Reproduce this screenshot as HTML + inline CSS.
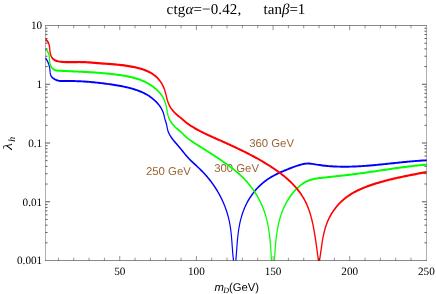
<!DOCTYPE html>
<html><head><meta charset="utf-8"><title>plot</title>
<style>
html,body{margin:0;padding:0;background:#fff;}
svg{display:block}
text{text-rendering:geometricPrecision;}
svg{will-change:transform;transform:translateZ(0);}
.s{font-family:"Liberation Serif",serif;}
.h{font-family:"Liberation Sans",sans-serif;}
</style></head><body>
<svg width="436" height="294" viewBox="0 0 436 294">
<rect width="436" height="294" fill="#fff"/>
<g class="h" font-size="11.35" fill="#996633">
<text x="146" y="175.3">250 GeV</text>
<text x="214.2" y="172.4">300 GeV</text>
<text x="249.2" y="146.6">360 GeV</text>
</g>
<g fill="none" stroke-linejoin="round" stroke-linecap="butt" transform="scale(0.6,1)">
<path d="M76.00 58.10 L77.33 59.30 L78.57 60.59 L79.69 61.94 L80.69 63.36 L81.54 64.83 L82.24 66.33 L82.77 67.86 L83.11 69.41 L83.33 70.95 L83.55 72.47 L83.93 73.93 L84.60 75.30 L85.72 76.57 L87.37 77.70 L89.41 78.66 L91.60 79.43 L93.84 80.02 L96.14 80.46 L98.49 80.75 L100.89 80.94 L103.32 81.04 L105.79 81.07 L108.29 81.06 L110.82 81.04 L113.37 81.02 L115.93 81.01 L118.51 81.02 L121.09 81.04 L123.68 81.07 L126.27 81.11 L128.85 81.16 L131.42 81.22 L133.97 81.29 L136.51 81.37 L139.04 81.46 L141.55 81.55 L144.06 81.66 L146.55 81.77 L149.04 81.89 L151.52 82.02 L153.99 82.16 L156.46 82.30 L158.92 82.45 L161.38 82.61 L163.84 82.77 L166.30 82.95 L168.76 83.12 L171.22 83.31 L173.68 83.50 L176.15 83.70 L178.62 83.90 L181.10 84.11 L183.58 84.32 L186.08 84.54 L188.58 84.77 L191.08 85.00 L193.60 85.24 L196.11 85.49 L198.62 85.75 L201.14 86.02 L203.65 86.30 L206.15 86.60 L208.65 86.92 L211.14 87.25 L213.61 87.60 L216.08 87.97 L218.53 88.36 L220.96 88.78 L223.38 89.22 L225.78 89.68 L228.15 90.16 L230.50 90.68 L232.82 91.22 L235.12 91.80 L237.39 92.40 L239.62 93.04 L241.83 93.71 L243.99 94.42 L246.12 95.16 L248.22 95.94 L250.27 96.77 L252.28 97.64 L254.24 98.55 L256.16 99.51 L258.02 100.52 L259.84 101.57 L261.61 102.68 L263.32 103.83 L264.94 105.04 L266.48 106.28 L267.92 107.57 L269.23 108.89 L270.41 110.24 L271.44 111.62 L272.31 113.02 L273.00 114.45 L273.60 115.89 L274.16 117.34 L274.77 118.81 L275.50 120.28 L276.28 121.76 L277.04 123.23 L277.70 124.70 L278.21 126.16 L278.65 127.61 L279.10 129.04 L279.69 130.46 L280.47 131.85 L281.45 133.22 L282.60 134.56 L283.90 135.88 L285.31 137.18 L286.82 138.45 L288.40 139.69 L290.03 140.91 L291.67 142.10 L293.31 143.26 L294.92 144.39 L296.51 145.51 L298.08 146.61 L299.64 147.72 L301.19 148.83 L302.75 149.96 L304.31 151.11 L305.88 152.30 L307.47 153.50 L309.09 154.70 L310.73 155.89 L312.41 157.05 L314.12 158.18 L315.87 159.28 L317.65 160.35 L319.44 161.40 L321.26 162.43 L323.09 163.45 L324.92 164.47 L326.76 165.47 L328.59 166.48 L330.42 167.50 L332.23 168.52 L334.02 169.56 L335.80 170.62 L337.55 171.69 L339.28 172.77 L340.99 173.88 L342.67 174.99 L344.33 176.13 L345.97 177.27 L347.58 178.44 L349.16 179.61 L350.72 180.80 L352.24 182.01 L353.74 183.22 L355.21 184.45 L356.65 185.69 L358.05 186.95 L359.43 188.22 L360.77 189.50 L362.09 190.79 L363.36 192.09 L364.61 193.40 L365.83 194.73 L367.01 196.06 L368.15 197.41 L369.27 198.76 L370.35 200.12 L371.39 201.50 L372.40 202.88 L373.38 204.27 L374.32 205.67 L375.22 207.07 L376.09 208.49 L376.92 209.91 L377.72 211.34 L378.48 212.77 L379.20 214.22 L379.89 215.66 L380.53 217.12 L381.14 218.58 L381.71 220.04 L382.24 221.51 L382.74 222.99 L383.19 224.47 L383.61 225.95 L384.00 227.44 L384.35 228.93 L384.68 230.42 L384.98 231.92 L385.25 233.42 L385.51 234.92 L385.75 236.42 L385.97 237.93 L386.18 239.43 L386.38 240.94 L386.57 242.45 L386.75 243.96 L386.93 245.47 L387.12 246.98 L387.30 248.48 L387.49 249.99 L387.69 251.50 L387.89 253.00 L388.11 254.51 L388.35 256.01 L388.60 257.51 L388.87 259.01 L389.17 260.50M393.00 260.50 L393.23 259.02 L393.46 257.53 L393.66 256.04 L393.87 254.54 L394.06 253.04 L394.25 251.54 L394.44 250.03 L394.62 248.52 L394.81 247.01 L395.00 245.50 L395.20 243.98 L395.41 242.47 L395.63 240.95 L395.86 239.44 L396.10 237.93 L396.36 236.42 L396.64 234.91 L396.94 233.40 L397.27 231.90 L397.62 230.40 L398.00 228.90 L398.41 227.41 L398.85 225.92 L399.32 224.44 L399.83 222.96 L400.38 221.49 L400.97 220.03 L401.59 218.57 L402.26 217.12 L402.96 215.68 L403.71 214.25 L404.50 212.83 L405.33 211.42 L406.21 210.01 L407.14 208.62 L408.11 207.24 L409.13 205.87 L410.20 204.52 L411.32 203.17 L412.49 201.84 L413.72 200.52 L414.99 199.22 L416.32 197.93 L417.70 196.66 L419.13 195.40 L420.61 194.16 L422.14 192.95 L423.71 191.75 L425.33 190.58 L426.99 189.42 L428.69 188.30 L430.44 187.20 L432.22 186.12 L434.05 185.07 L435.91 184.06 L437.81 183.07 L439.74 182.11 L441.71 181.19 L443.71 180.29 L445.74 179.44 L447.80 178.61 L449.89 177.81 L452.01 177.04 L454.15 176.30 L456.32 175.58 L458.51 174.89 L460.73 174.21 L462.96 173.56 L465.22 172.92 L467.49 172.30 L469.79 171.69 L472.10 171.10 L474.42 170.52 L476.76 169.95 L479.11 169.38 L481.47 168.82 L483.85 168.27 L486.23 167.72 L488.62 167.17 L491.02 166.65 L493.43 166.14 L495.84 165.65 L498.27 165.19 L500.70 164.77 L503.14 164.38 L505.58 164.05 L508.03 163.79 L510.49 163.62 L512.95 163.55 L515.42 163.58 L517.89 163.70 L520.37 163.88 L522.85 164.10 L525.34 164.35 L527.83 164.61 L530.32 164.85 L532.82 165.08 L535.32 165.29 L537.82 165.48 L540.33 165.66 L542.84 165.82 L545.34 165.96 L547.85 166.10 L550.36 166.21 L552.88 166.32 L555.39 166.41 L557.90 166.48 L560.41 166.55 L562.92 166.60 L565.43 166.65 L567.95 166.68 L570.46 166.70 L572.97 166.71 L575.48 166.70 L577.99 166.69 L580.50 166.67 L583.01 166.64 L585.51 166.60 L588.02 166.56 L590.53 166.50 L593.04 166.44 L595.55 166.36 L598.06 166.29 L600.56 166.20 L603.07 166.11 L605.58 166.01 L608.09 165.90 L610.59 165.79 L613.10 165.68 L615.61 165.55 L618.11 165.43 L620.62 165.30 L623.13 165.16 L625.63 165.02 L628.14 164.88 L630.65 164.73 L633.15 164.59 L635.66 164.43 L638.16 164.28 L640.67 164.13 L643.17 163.97 L645.68 163.81 L648.19 163.65 L650.69 163.49 L653.20 163.33 L655.70 163.17 L658.21 163.01 L660.71 162.85 L663.22 162.69 L665.72 162.54 L668.23 162.38 L670.74 162.23 L673.24 162.08 L675.75 161.93 L678.25 161.78 L680.76 161.64 L683.26 161.50 L685.77 161.37 L688.28 161.24 L690.78 161.11 L693.29 160.99 L695.79 160.87 L698.30 160.76 L700.81 160.66 L703.31 160.56 L705.82 160.46 L708.33 160.38 L710.83 160.30" stroke="#0000ff" stroke-width="1.95"/>
<path d="M76.00 49.20 L77.82 50.29 L79.31 51.50 L80.48 52.83 L81.35 54.25 L81.94 55.73 L82.28 57.27 L82.47 58.83 L82.62 60.41 L82.83 61.96 L83.21 63.49 L83.87 64.96 L84.89 66.35 L86.29 67.63 L88.01 68.73 L90.00 69.59 L92.19 70.17 L94.53 70.48 L96.97 70.63 L99.45 70.72 L101.93 70.79 L104.41 70.87 L106.89 70.94 L109.38 71.02 L111.87 71.09 L114.37 71.16 L116.86 71.23 L119.36 71.30 L121.86 71.37 L124.37 71.43 L126.87 71.50 L129.38 71.57 L131.89 71.65 L134.40 71.72 L136.91 71.79 L139.42 71.87 L141.93 71.95 L144.44 72.03 L146.96 72.11 L149.47 72.20 L151.99 72.29 L154.50 72.39 L157.02 72.49 L159.54 72.59 L162.05 72.70 L164.57 72.81 L167.08 72.93 L169.59 73.05 L172.11 73.18 L174.62 73.32 L177.13 73.46 L179.64 73.61 L182.15 73.77 L184.66 73.94 L187.16 74.11 L189.67 74.29 L192.17 74.48 L194.67 74.68 L197.16 74.88 L199.66 75.10 L202.15 75.33 L204.64 75.56 L207.13 75.81 L209.61 76.07 L212.09 76.34 L214.56 76.63 L217.01 76.95 L219.46 77.28 L221.90 77.63 L224.32 78.02 L226.72 78.43 L229.11 78.87 L231.48 79.34 L233.83 79.85 L236.15 80.40 L238.45 80.98 L240.72 81.60 L242.97 82.26 L245.19 82.96 L247.38 83.70 L249.53 84.47 L251.65 85.29 L253.73 86.14 L255.78 87.03 L257.78 87.96 L259.73 88.94 L261.62 89.95 L263.43 91.00 L265.17 92.09 L266.82 93.23 L268.38 94.41 L269.83 95.63 L271.17 96.89 L272.39 98.20 L273.48 99.55 L274.45 100.95 L275.31 102.37 L276.06 103.83 L276.72 105.31 L277.30 106.80 L277.80 108.30 L278.25 109.80 L278.65 111.29 L279.06 112.78 L279.54 114.25 L280.15 115.69 L280.92 117.11 L281.86 118.49 L282.95 119.83 L284.18 121.14 L285.53 122.41 L287.01 123.64 L288.60 124.82 L290.27 125.95 L292.04 127.03 L293.87 128.06 L295.77 129.03 L297.69 129.98 L299.60 130.92 L301.46 131.89 L303.25 132.91 L305.02 133.95 L306.81 135.02 L308.65 136.09 L310.55 137.15 L312.50 138.17 L314.49 139.15 L316.51 140.06 L318.56 140.93 L320.63 141.76 L322.72 142.56 L324.81 143.36 L326.91 144.16 L329.00 144.95 L331.10 145.74 L333.21 146.54 L335.31 147.34 L337.42 148.13 L339.52 148.93 L341.63 149.73 L343.75 150.53 L345.86 151.34 L347.97 152.15 L350.09 152.96 L352.21 153.78 L354.33 154.59 L356.44 155.42 L358.56 156.25 L360.68 157.08 L362.79 157.92 L364.90 158.77 L367.00 159.62 L369.10 160.47 L371.19 161.33 L373.27 162.20 L375.34 163.08 L377.40 163.96 L379.45 164.85 L381.48 165.75 L383.50 166.66 L385.51 167.57 L387.49 168.50 L389.46 169.43 L391.42 170.37 L393.35 171.33 L395.26 172.30 L397.15 173.28 L399.02 174.27 L400.86 175.28 L402.68 176.31 L404.47 177.35 L406.23 178.41 L407.96 179.49 L409.67 180.59 L411.34 181.70 L412.98 182.83 L414.60 183.98 L416.18 185.15 L417.73 186.33 L419.24 187.53 L420.73 188.74 L422.18 189.97 L423.60 191.22 L424.98 192.48 L426.33 193.75 L427.64 195.04 L428.92 196.34 L430.16 197.66 L431.36 198.98 L432.53 200.32 L433.66 201.67 L434.75 203.03 L435.80 204.40 L436.82 205.78 L437.79 207.18 L438.73 208.58 L439.63 209.99 L440.48 211.41 L441.29 212.84 L442.07 214.27 L442.80 215.72 L443.49 217.17 L444.14 218.63 L444.75 220.09 L445.33 221.56 L445.87 223.03 L446.38 224.51 L446.86 226.00 L447.31 227.49 L447.73 228.98 L448.12 230.48 L448.48 231.98 L448.83 233.48 L449.15 234.98 L449.44 236.49 L449.72 238.00 L449.98 239.51 L450.23 241.02 L450.45 242.52 L450.67 244.03 L450.87 245.54 L451.06 247.05 L451.24 248.56 L451.41 250.06 L451.57 251.56 L451.73 253.06 L451.89 254.56 L452.04 256.05 L452.19 257.54 L452.35 259.02 L452.50 260.50M457.50 260.50 L457.64 259.01 L457.78 257.51 L457.93 256.01 L458.08 254.50 L458.23 252.99 L458.39 251.47 L458.56 249.96 L458.74 248.44 L458.93 246.92 L459.13 245.40 L459.35 243.88 L459.58 242.36 L459.83 240.84 L460.10 239.32 L460.38 237.81 L460.69 236.29 L461.02 234.78 L461.37 233.27 L461.75 231.77 L462.15 230.27 L462.59 228.78 L463.05 227.29 L463.54 225.81 L464.07 224.34 L464.63 222.87 L465.22 221.41 L465.85 219.96 L466.52 218.51 L467.23 217.07 L467.98 215.64 L468.77 214.22 L469.60 212.81 L470.48 211.41 L471.41 210.01 L472.38 208.62 L473.40 207.24 L474.48 205.88 L475.60 204.52 L476.78 203.17 L478.01 201.83 L479.30 200.50 L480.64 199.19 L482.03 197.89 L483.47 196.62 L484.97 195.36 L486.52 194.13 L488.12 192.92 L489.77 191.73 L491.47 190.58 L493.22 189.46 L495.02 188.37 L496.88 187.31 L498.78 186.30 L500.73 185.33 L502.73 184.41 L504.78 183.55 L506.87 182.75 L509.02 182.02 L511.21 181.36 L513.45 180.77 L515.73 180.26 L518.05 179.80 L520.41 179.41 L522.80 179.07 L525.22 178.77 L527.67 178.51 L530.13 178.29 L532.62 178.08 L535.12 177.90 L537.62 177.73 L540.14 177.57 L542.66 177.41 L545.18 177.25 L547.71 177.08 L550.23 176.92 L552.76 176.75 L555.29 176.59 L557.82 176.42 L560.35 176.25 L562.89 176.08 L565.42 175.91 L567.96 175.74 L570.49 175.57 L573.02 175.40 L575.56 175.22 L578.09 175.04 L580.62 174.86 L583.15 174.68 L585.68 174.49 L588.21 174.30 L590.73 174.11 L593.25 173.92 L595.77 173.73 L598.29 173.53 L600.80 173.33 L603.32 173.12 L605.82 172.92 L608.33 172.71 L610.83 172.50 L613.33 172.28 L615.83 172.07 L618.33 171.85 L620.82 171.63 L623.31 171.42 L625.80 171.20 L628.29 170.98 L630.78 170.75 L633.27 170.53 L635.76 170.31 L638.24 170.09 L640.73 169.87 L643.22 169.65 L645.70 169.43 L648.19 169.21 L650.67 168.99 L653.16 168.77 L655.64 168.56 L658.13 168.34 L660.62 168.13 L663.11 167.92 L665.60 167.71 L668.09 167.51 L670.59 167.31 L673.08 167.11 L675.58 166.91 L678.08 166.72 L680.58 166.53 L683.08 166.34 L685.59 166.16 L688.10 165.98 L690.61 165.81 L693.13 165.64 L695.64 165.48 L698.17 165.32 L700.69 165.16 L703.22 165.01 L705.75 164.87 L708.29 164.73 L710.83 164.60" stroke="#00ff00" stroke-width="2.05"/>
<path d="M76.00 39.50 L78.11 40.54 L79.70 41.70 L80.87 42.98 L81.68 44.34 L82.23 45.79 L82.60 47.28 L82.86 48.82 L83.11 50.37 L83.42 51.93 L83.88 53.47 L84.54 54.97 L85.44 56.37 L86.60 57.64 L88.05 58.74 L89.81 59.62 L91.85 60.31 L94.09 60.84 L96.48 61.23 L98.97 61.52 L101.48 61.74 L104.00 61.90 L106.51 62.02 L109.03 62.10 L111.54 62.15 L114.05 62.16 L116.57 62.16 L119.08 62.14 L121.59 62.11 L124.11 62.07 L126.62 62.05 L129.13 62.03 L131.64 62.02 L134.15 62.04 L136.66 62.07 L139.17 62.13 L141.68 62.19 L144.19 62.27 L146.70 62.37 L149.20 62.47 L151.71 62.58 L154.22 62.69 L156.72 62.81 L159.23 62.94 L161.73 63.06 L164.24 63.18 L166.74 63.30 L169.24 63.41 L171.75 63.53 L174.25 63.64 L176.75 63.75 L179.25 63.86 L181.75 63.97 L184.25 64.08 L186.75 64.20 L189.25 64.32 L191.74 64.45 L194.24 64.59 L196.74 64.73 L199.23 64.88 L201.73 65.05 L204.22 65.22 L206.71 65.41 L209.21 65.61 L211.70 65.82 L214.19 66.06 L216.68 66.30 L219.17 66.57 L221.66 66.86 L224.15 67.16 L226.63 67.49 L229.11 67.84 L231.58 68.22 L234.03 68.62 L236.46 69.06 L238.86 69.54 L241.24 70.05 L243.57 70.60 L245.87 71.20 L248.11 71.83 L250.31 72.52 L252.45 73.26 L254.53 74.05 L256.54 74.90 L258.49 75.80 L260.35 76.77 L262.14 77.80 L263.84 78.89 L265.45 80.04 L266.97 81.25 L268.40 82.50 L269.73 83.80 L270.96 85.13 L272.09 86.50 L273.12 87.90 L274.04 89.32 L274.85 90.77 L275.56 92.23 L276.20 93.70 L276.80 95.17 L277.39 96.64 L277.99 98.11 L278.63 99.56 L279.34 101.00 L280.15 102.42 L281.07 103.81 L282.10 105.16 L283.24 106.48 L284.50 107.76 L285.88 108.99 L287.37 110.17 L288.98 111.29 L290.69 112.37 L292.48 113.41 L294.33 114.42 L296.23 115.40 L298.15 116.38 L300.09 117.36 L302.02 118.34 L303.94 119.33 L305.86 120.32 L307.80 121.29 L309.76 122.23 L311.76 123.15 L313.79 124.03 L315.85 124.90 L317.93 125.73 L320.04 126.55 L322.17 127.34 L324.32 128.11 L326.50 128.86 L328.69 129.59 L330.90 130.31 L333.12 131.01 L335.36 131.70 L337.61 132.37 L339.87 133.03 L342.14 133.69 L344.42 134.33 L346.70 134.97 L348.99 135.60 L351.28 136.23 L353.57 136.85 L355.85 137.47 L358.14 138.09 L360.43 138.71 L362.72 139.33 L365.00 139.94 L367.29 140.56 L369.57 141.17 L371.85 141.79 L374.14 142.40 L376.42 143.02 L378.70 143.64 L380.97 144.26 L383.25 144.88 L385.52 145.51 L387.80 146.14 L390.07 146.77 L392.34 147.41 L394.60 148.04 L396.87 148.69 L399.13 149.34 L401.39 149.99 L403.65 150.65 L405.90 151.31 L408.16 151.98 L410.41 152.66 L412.65 153.34 L414.90 154.03 L417.14 154.73 L419.37 155.44 L421.60 156.15 L423.83 156.87 L426.05 157.59 L428.26 158.32 L430.47 159.06 L432.66 159.81 L434.85 160.57 L437.03 161.33 L439.21 162.10 L441.37 162.88 L443.52 163.66 L445.66 164.46 L447.79 165.26 L449.91 166.07 L452.01 166.88 L454.11 167.71 L456.18 168.54 L458.25 169.38 L460.30 170.23 L462.33 171.09 L464.35 171.96 L466.36 172.84 L468.34 173.74 L470.31 174.65 L472.26 175.57 L474.20 176.51 L476.11 177.47 L478.01 178.45 L479.88 179.44 L481.74 180.45 L483.57 181.49 L485.38 182.54 L487.17 183.62 L488.93 184.72 L490.66 185.84 L492.36 186.97 L494.02 188.13 L495.65 189.30 L497.24 190.50 L498.78 191.71 L500.28 192.93 L501.74 194.18 L503.14 195.43 L504.49 196.71 L505.79 198.00 L507.03 199.30 L508.21 200.62 L509.34 201.95 L510.41 203.30 L511.44 204.65 L512.41 206.02 L513.34 207.40 L514.22 208.79 L515.06 210.20 L515.86 211.61 L516.62 213.03 L517.35 214.46 L518.04 215.90 L518.70 217.34 L519.33 218.80 L519.93 220.26 L520.51 221.73 L521.06 223.20 L521.58 224.68 L522.09 226.16 L522.57 227.65 L523.04 229.14 L523.49 230.64 L523.92 232.14 L524.34 233.64 L524.74 235.14 L525.14 236.64 L525.53 238.15 L525.90 239.65 L526.28 241.16 L526.64 242.66 L527.00 244.17 L527.36 245.67 L527.71 247.17 L528.05 248.67 L528.39 250.16 L528.73 251.66 L529.06 253.14 L529.38 254.63 L529.71 256.10 L530.03 257.57 L530.35 259.04 L530.67 260.50M532.50 260.50 L532.90 259.01 L533.29 257.52 L533.66 256.02 L534.02 254.51 L534.38 253.00 L534.73 251.49 L535.08 249.97 L535.43 248.44 L535.79 246.92 L536.16 245.40 L536.54 243.87 L536.93 242.35 L537.35 240.83 L537.78 239.31 L538.24 237.80 L538.73 236.29 L539.25 234.79 L539.80 233.29 L540.39 231.80 L541.02 230.32 L541.70 228.85 L542.42 227.39 L543.20 225.94 L544.03 224.51 L544.91 223.08 L545.86 221.67 L546.86 220.28 L547.92 218.90 L549.05 217.54 L550.22 216.19 L551.46 214.87 L552.75 213.56 L554.09 212.27 L555.49 211.01 L556.93 209.77 L558.44 208.55 L559.99 207.35 L561.59 206.18 L563.24 205.03 L564.94 203.92 L566.69 202.82 L568.48 201.76 L570.32 200.73 L572.21 199.73 L574.14 198.76 L576.11 197.82 L578.12 196.91 L580.18 196.03 L582.27 195.18 L584.39 194.36 L586.55 193.57 L588.75 192.80 L590.97 192.06 L593.22 191.35 L595.50 190.65 L597.80 189.99 L600.12 189.34 L602.47 188.71 L604.83 188.11 L607.21 187.52 L609.61 186.96 L612.02 186.41 L614.44 185.88 L616.88 185.36 L619.32 184.86 L621.76 184.38 L624.21 183.90 L626.67 183.44 L629.12 182.99 L631.57 182.56 L634.02 182.13 L636.48 181.71 L638.93 181.31 L641.38 180.91 L643.84 180.52 L646.29 180.14 L648.75 179.77 L651.20 179.40 L653.66 179.05 L656.12 178.70 L658.58 178.36 L661.04 178.02 L663.51 177.69 L665.97 177.37 L668.44 177.05 L670.91 176.73 L673.38 176.42 L675.86 176.11 L678.33 175.81 L680.81 175.51 L683.29 175.21 L685.78 174.92 L688.27 174.62 L690.76 174.33 L693.26 174.04 L695.75 173.75 L698.26 173.46 L700.76 173.17 L703.27 172.88 L705.79 172.59 L708.31 172.29 L710.83 172.00" stroke="#ff0000" stroke-width="2.2"/>
</g>
<g fill="none" stroke="#000" stroke-width="1">
<path d="M45.5 25.5V260.5M426.5 25.5V260.5" stroke-opacity="0.31"/>
<path d="M45.0 25.5H427.0M45.0 260.5H427.0" stroke-opacity="0.46"/>
<path d="M58.43 260.50 L58.43 257.70M58.43 25.50 L58.43 28.30M73.76 260.50 L73.76 257.70M73.76 25.50 L73.76 28.30M89.09 260.50 L89.09 257.70M89.09 25.50 L89.09 28.30M104.42 260.50 L104.42 257.70M104.42 25.50 L104.42 28.30M119.75 260.50 L119.75 255.90M119.75 25.50 L119.75 30.10M135.08 260.50 L135.08 257.70M135.08 25.50 L135.08 28.30M150.41 260.50 L150.41 257.70M150.41 25.50 L150.41 28.30M165.74 260.50 L165.74 257.70M165.74 25.50 L165.74 28.30M181.07 260.50 L181.07 257.70M181.07 25.50 L181.07 28.30M196.40 260.50 L196.40 255.90M196.40 25.50 L196.40 30.10M211.73 260.50 L211.73 257.70M211.73 25.50 L211.73 28.30M227.06 260.50 L227.06 257.70M227.06 25.50 L227.06 28.30M242.39 260.50 L242.39 257.70M242.39 25.50 L242.39 28.30M257.72 260.50 L257.72 257.70M257.72 25.50 L257.72 28.30M273.05 260.50 L273.05 255.90M273.05 25.50 L273.05 30.10M288.38 260.50 L288.38 257.70M288.38 25.50 L288.38 28.30M303.71 260.50 L303.71 257.70M303.71 25.50 L303.71 28.30M319.04 260.50 L319.04 257.70M319.04 25.50 L319.04 28.30M334.37 260.50 L334.37 257.70M334.37 25.50 L334.37 28.30M349.70 260.50 L349.70 255.90M349.70 25.50 L349.70 30.10M365.03 260.50 L365.03 257.70M365.03 25.50 L365.03 28.30M380.36 260.50 L380.36 257.70M380.36 25.50 L380.36 28.30M395.69 260.50 L395.69 257.70M395.69 25.50 L395.69 28.30M411.02 260.50 L411.02 257.70M411.02 25.50 L411.02 28.30" stroke-opacity="0.42"/>
<path d="M45.50 242.81 L47.50 242.81M426.50 242.81 L424.50 242.81M45.50 232.47 L47.50 232.47M426.50 232.47 L424.50 232.47M45.50 225.13 L47.50 225.13M426.50 225.13 L424.50 225.13M45.50 219.44 L47.50 219.44M426.50 219.44 L424.50 219.44M45.50 214.78 L47.50 214.78M426.50 214.78 L424.50 214.78M45.50 210.85 L47.50 210.85M426.50 210.85 L424.50 210.85M45.50 207.44 L47.50 207.44M426.50 207.44 L424.50 207.44M45.50 204.44 L47.50 204.44M426.50 204.44 L424.50 204.44M45.50 201.75 L50.10 201.75M426.50 201.75 L421.90 201.75M45.50 184.06 L47.50 184.06M426.50 184.06 L424.50 184.06M45.50 173.72 L47.50 173.72M426.50 173.72 L424.50 173.72M45.50 166.38 L47.50 166.38M426.50 166.38 L424.50 166.38M45.50 160.69 L47.50 160.69M426.50 160.69 L424.50 160.69M45.50 156.03 L47.50 156.03M426.50 156.03 L424.50 156.03M45.50 152.10 L47.50 152.10M426.50 152.10 L424.50 152.10M45.50 148.69 L47.50 148.69M426.50 148.69 L424.50 148.69M45.50 145.69 L47.50 145.69M426.50 145.69 L424.50 145.69M45.50 143.00 L50.10 143.00M426.50 143.00 L421.90 143.00M45.50 125.31 L47.50 125.31M426.50 125.31 L424.50 125.31M45.50 114.97 L47.50 114.97M426.50 114.97 L424.50 114.97M45.50 107.63 L47.50 107.63M426.50 107.63 L424.50 107.63M45.50 101.94 L47.50 101.94M426.50 101.94 L424.50 101.94M45.50 97.28 L47.50 97.28M426.50 97.28 L424.50 97.28M45.50 93.35 L47.50 93.35M426.50 93.35 L424.50 93.35M45.50 89.94 L47.50 89.94M426.50 89.94 L424.50 89.94M45.50 86.94 L47.50 86.94M426.50 86.94 L424.50 86.94M45.50 84.25 L50.10 84.25M426.50 84.25 L421.90 84.25M45.50 66.56 L47.50 66.56M426.50 66.56 L424.50 66.56M45.50 56.22 L47.50 56.22M426.50 56.22 L424.50 56.22M45.50 48.88 L47.50 48.88M426.50 48.88 L424.50 48.88M45.50 43.19 L47.50 43.19M426.50 43.19 L424.50 43.19M45.50 38.53 L47.50 38.53M426.50 38.53 L424.50 38.53M45.50 34.60 L47.50 34.60M426.50 34.60 L424.50 34.60M45.50 31.19 L47.50 31.19M426.50 31.19 L424.50 31.19M45.50 28.19 L47.50 28.19M426.50 28.19 L424.50 28.19" stroke-opacity="0.66"/>
</g>
<g class="s t" font-size="11.2" fill="#000"><text x="119.75" y="275.3" text-anchor="middle">50</text><text x="196.40" y="275.3" text-anchor="middle">100</text><text x="273.05" y="275.3" text-anchor="middle">150</text><text x="349.70" y="275.3" text-anchor="middle">200</text><text x="426.35" y="275.3" text-anchor="middle">250</text><text x="42.2" y="29.30" text-anchor="end">10</text><text x="42.2" y="88.05" text-anchor="end">1</text><text x="42.2" y="146.80" text-anchor="end">0.1</text><text x="42.2" y="205.55" text-anchor="end">0.01</text><text x="42.2" y="264.30" text-anchor="end">0.001</text></g>
<g class="s t" font-size="15" fill="#000">
<text x="166.6" y="13.5" letter-spacing="0.15">ctg<tspan font-style="italic">α</tspan>=−0.42,</text>
<text x="263.6" y="13.5">tan<tspan font-style="italic">β</tspan>=1</text>
</g>
<g class="s t" fill="#000" font-style="italic" transform="translate(12,149.9) rotate(-90)"><text x="0" y="0" font-size="12.8" transform="scale(1.25,1)">λ</text><text x="8.2" y="3" font-size="9.8">h</text></g>
<g class="h" font-size="11.25" fill="#000"><text x="214.4" y="290.9" font-style="italic">m</text><text class="s" x="223.3" y="292.6" font-style="italic" font-size="8">D</text><text x="228.9" y="290.8">(GeV)</text></g>
</svg>
</body></html>
